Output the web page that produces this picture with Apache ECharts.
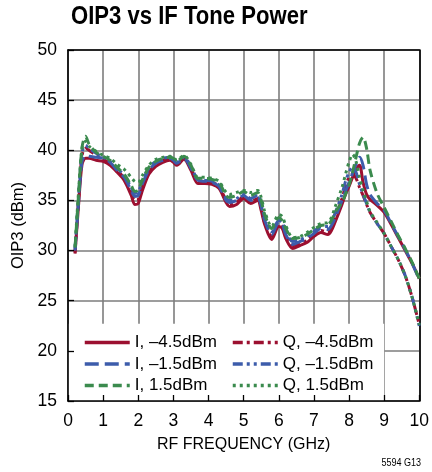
<!DOCTYPE html>
<html><head><meta charset="utf-8">
<script src="https://cdn.jsdelivr.net/npm/echarts/dist/echarts.min.js"></script>
<style>html,body{margin:0;padding:0;background:#fff}#c{width:432px;height:472px}</style>
</head><body><div id="c"></div>
<script>
const freq = [0.2,0.3,0.4,0.5,0.6,0.8,1.0,1.2,1.4,1.6,1.8,1.9,2.0,2.1,2.3,2.5,2.7,2.9,3.0,3.1,3.3,3.5,3.7,3.9,4.1,4.3,4.5,4.6,4.8,5.0,5.2,5.4,5.5,5.6,5.8,6.0,6.1,6.2,6.4,6.6,6.8,7.0,7.2,7.4,7.5,7.6,7.8,7.9,8.0,8.1,8.2,8.3,8.4,8.5,8.6,8.8,9.0,9.2,9.4,9.6,9.8,10.0];
const I_m45 = [29.7,34.5,38.6,39.2,39.2,39.0,38.9,38.5,37.8,37.0,35.5,34.6,34.7,35.8,37.6,38.4,38.8,39.0,38.8,38.5,39.1,38.0,36.7,36.7,36.6,36.2,34.8,34.4,34.6,35.2,34.7,35.0,34.0,32.6,31.1,32.4,32.2,31.2,30.2,30.5,30.8,31.4,31.8,31.6,32.0,32.8,34.6,35.6,36.4,37.3,38.1,38.5,36.8,35.6,35.1,34.5,33.8,32.6,31.3,30.0,28.7,27.2];
const Q_m45 = [29.8,35.0,39.5,40.2,40.0,39.5,39.1,38.7,38.0,37.2,35.8,35.0,35.1,36.2,37.8,38.6,39.0,39.2,39.0,38.6,39.2,38.2,36.9,36.9,36.8,36.4,35.0,34.6,34.8,35.4,34.9,35.2,34.3,32.8,31.4,32.6,32.4,31.5,30.5,30.7,31.0,31.6,32.0,31.8,32.3,33.2,35.2,36.4,37.3,37.6,37.2,36.3,35.5,34.6,33.8,32.7,31.7,30.4,29.1,27.5,25.3,22.6];
const I_m15 = [30.0,34.8,38.9,39.5,39.4,39.3,39.2,38.8,38.0,37.3,36.0,35.4,35.5,36.5,38.0,38.7,39.0,39.2,39.0,38.7,39.2,38.2,37.0,36.9,36.8,36.4,35.0,34.8,35.0,35.5,35.0,35.3,34.4,33.0,31.6,32.8,32.6,31.6,30.6,30.9,31.2,31.7,32.2,32.1,32.5,33.2,35.0,35.9,36.8,37.7,38.6,39.3,38.5,36.6,35.6,34.7,34.0,32.7,31.4,30.1,28.7,27.1];
const Q_m15 = [30.2,35.3,39.8,40.5,40.2,39.7,39.3,38.9,38.2,37.5,36.3,35.7,35.8,36.8,38.2,38.9,39.2,39.3,39.1,38.8,39.3,38.4,37.1,37.0,36.9,36.5,35.2,35.0,35.2,35.6,35.2,35.5,34.7,33.3,31.9,33.0,32.8,31.9,30.9,31.1,31.4,31.9,32.4,32.4,32.8,33.7,35.6,36.9,37.8,38.3,37.8,36.6,35.6,34.7,33.8,32.7,31.7,30.4,29.1,27.5,25.3,22.5];
const I_15 = [30.3,35.5,40.3,41.4,40.6,39.8,39.4,39.0,38.3,37.6,36.5,35.9,36.0,36.9,38.3,38.9,39.2,39.3,39.2,38.9,39.4,38.5,37.2,37.2,37.1,36.8,35.5,35.3,35.5,35.9,35.5,35.8,35.0,33.6,32.2,33.3,33.0,32.2,31.2,31.3,31.6,32.1,32.5,32.6,33.0,33.8,34.8,35.6,36.5,37.8,39.3,40.7,41.3,40.2,38.0,35.7,34.3,32.9,31.5,30.2,28.8,27.2];
const Q_15 = [30.4,35.8,40.2,40.9,40.4,39.9,39.5,39.2,38.6,38.1,37.3,36.9,36.8,37.4,38.5,39.1,39.3,39.4,39.3,39.0,39.5,38.6,37.3,37.3,37.2,36.9,35.8,35.6,35.8,36.0,35.8,36.0,35.3,33.9,32.4,33.6,33.4,32.5,31.3,31.4,31.8,32.3,32.7,32.8,33.3,34.3,36.3,37.6,38.8,39.6,38.9,37.3,36.0,34.9,33.9,32.8,31.7,30.4,29.1,27.5,25.3,22.6];
const seriesNames = ['I, –4.5dBm','Q, –4.5dBm','I, –1.5dBm','Q, –1.5dBm','I, 1.5dBm','Q, 1.5dBm'];
const legendBoxX = [0, 9];
const legendBoxY = [15, 22.7];

const FONT = "'Liberation Sans',Arial,sans-serif";
const red = '#9c1030', blue = '#3d5cab', green = '#3b8b4e';
const defs = [
  {vals: I_m45, color: red, dash: 'solid'},
  {vals: Q_m45, color: red, dash: [10,4,3,4]},
  {vals: I_m15, color: blue, dash: [14,6]},
  {vals: Q_m15, color: blue, dash: [10,4,3,4,3,4]},
  {vals: I_15, color: green, dash: [9,5]},
  {vals: Q_15, color: green, dash: [3,4]}
];
const chart = echarts.init(document.getElementById('c'));
const txt = {color:'#000', fontFamily: FONT};
const legendCommon = {orient: 'vertical', top: 329, itemWidth: 45, itemHeight: 14, itemGap: 4.5,
  selectedMode: false, itemStyle: {opacity: 0, borderWidth: 0},
  lineStyle: {width: 3.5},
  textStyle: Object.assign({fontSize: 17, lineHeight: 17}, txt)};
chart.setOption({
  animation: false,
  backgroundColor: '#fff',
  graphic: [
    {type: 'text', left: 71, top: 4, scaleX: 0.85, z: 20,
     style: {text: 'OIP3 vs IF Tone Power', font: "bold 26px 'Liberation Sans', Arial, sans-serif", fill: '#000'}},
    {type: 'text', right: 11, bottom: 4, scaleX: 0.82, z: 20,
     style: {text: '5594 G13', font: "11px 'Liberation Sans', Arial, sans-serif", fill: '#000'}}
  ],
  grid: {left: 68, right: 12, top: 50, bottom: 71},
  legend: [
    Object.assign({data: [seriesNames[0], seriesNames[2], seriesNames[4]], left: 78}, legendCommon),
    Object.assign({data: [seriesNames[1], seriesNames[3], seriesNames[5]], left: 226}, legendCommon)
  ],
  xAxis: [
    {type: 'value', min: 0, max: 10, interval: 1, position: 'bottom', z: 10,
     axisLine: {show: true, onZero: false, lineStyle: {color: '#000', width: 1.6}},
     axisTick: {show: true, inside: true, length: 6, lineStyle: {color: '#000', width: 1.3}},
     axisLabel: Object.assign({fontSize: 17.5, margin: 11}, txt),
     splitLine: {show: false},
     name: 'RF FREQUENCY (GHz)', nameLocation: 'middle', nameGap: 36,
     nameTextStyle: Object.assign({fontSize: 16}, txt)},
    {type: 'value', min: 0, max: 10, interval: 1, position: 'top', z: 0,
     axisLine: {show: true, onZero: false, lineStyle: {color: '#000', width: 1.6}},
     axisTick: {show: false}, axisLabel: {show: false},
     splitLine: {show: true, lineStyle: {color: '#7d7d7d', width: 1.6}}}
  ],
  yAxis: [
    {type: 'value', min: 15, max: 50, interval: 5, position: 'left', z: 10,
     axisLine: {show: true, onZero: false, lineStyle: {color: '#000', width: 1.6}},
     axisTick: {show: true, inside: true, length: 6, lineStyle: {color: '#000', width: 1.3}},
     axisLabel: Object.assign({fontSize: 17.5, margin: 11}, txt),
     splitLine: {show: false},
     name: 'OIP3 (dBm)', nameLocation: 'middle', nameGap: 40,
     nameTextStyle: Object.assign({fontSize: 16.5}, txt)},
    {type: 'value', min: 15, max: 50, interval: 5, position: 'right', z: 0,
     axisLine: {show: true, onZero: false, lineStyle: {color: '#000', width: 1.6}},
     axisTick: {show: false}, axisLabel: {show: false},
     splitLine: {show: true, lineStyle: {color: '#7d7d7d', width: 1.6}}}
  ],
  series: defs.map((d, i) => {
    const s = {
      type: 'line', name: seriesNames[i], xAxisIndex: 0, yAxisIndex: 0,
      data: freq.map((f, k) => [f, d.vals[k]]),
      showSymbol: false, symbol: 'none', smooth: 0.3,
      lineStyle: {color: d.color, width: 3, type: d.dash},
      itemStyle: {color: d.color}, z: 3
    };
    if (i === 0) {
      s.markArea = {silent: true, itemStyle: {color: '#fff'}, label: {show: false},
        data: [[{coord: [legendBoxX[0], legendBoxY[0]]}, {coord: [legendBoxX[1], legendBoxY[1]]}]]};
    }
    return s;
  })
});
</script>
</body></html>
